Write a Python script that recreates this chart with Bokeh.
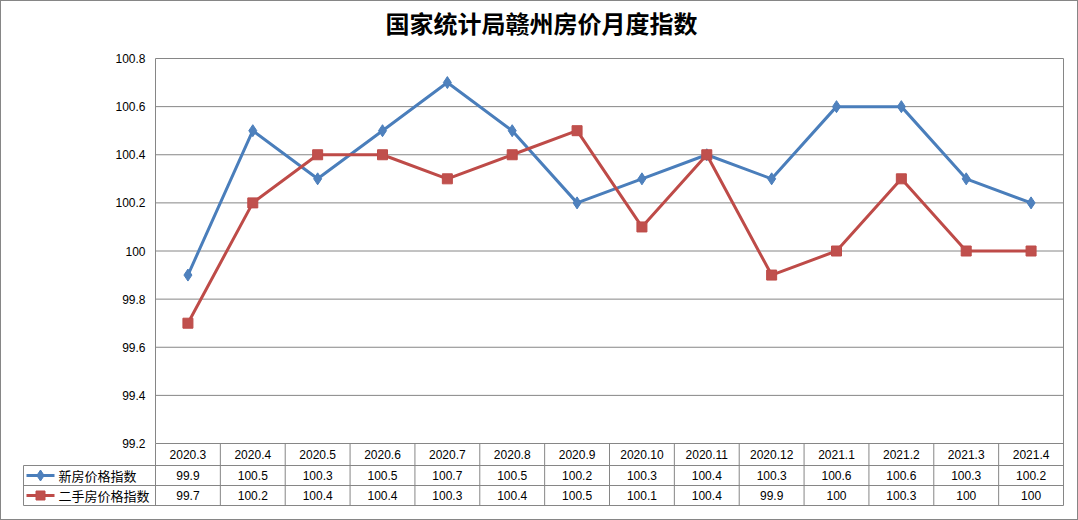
from bokeh.plotting import figure
from bokeh.layouts import column
from bokeh.models import Range1d, FixedTicker, CustomJSTickFormatter, ColumnDataSource
from bokeh.core.properties import value
from bokeh.embed import file_html
from bokeh.resources import INLINE

TITLE = "国家统计局赣州房价月度指数"
MONTHS = ["2020.3", "2020.4", "2020.5", "2020.6", "2020.7", "2020.8", "2020.9",
          "2020.10", "2020.11", "2020.12", "2021.1", "2021.2", "2021.3", "2021.4"]
NEW_HOUSE = [99.9, 100.5, 100.3, 100.5, 100.7, 100.5, 100.2, 100.3, 100.4, 100.3, 100.6, 100.6, 100.3, 100.2]
SECOND_HAND = [99.7, 100.2, 100.4, 100.4, 100.3, 100.4, 100.5, 100.1, 100.4, 99.9, 100.0, 100.3, 100.0, 100.0]
SERIES_NAMES = ["新房价格指数", "二手房价格指数"]
Y_TICKS = [99.2, 99.4, 99.6, 99.8, 100.0, 100.2, 100.4, 100.6, 100.8]

BLUE_L, BLUE_F = "#4A7EBB", "#4F81BD"
RED_L, RED_F = "#BE4B48", "#C0504D"
GRID = "#868686"
NUM_FONT = "Liberation Sans"
CJK_FONT = "Noto Sans CJK SC"

# layout constants (pixels)
PLOT_W, CHART_H = 908, 385        # plot area size
PLOT_TOP = 57                     # space above the plot area (title band)
TITLE_MID = 21                    # title centre, px from top of chart
TITLE_CX = 386                    # title centre, px right of plot-area left
LABEL_COL_W = 132                 # width of the table's label column
ROW_H = [22, 20, 20]              # table row heights (header, series 1, series 2)
PAD = 2

n = len(MONTHS)
xc = [i + 0.5 for i in range(n)]
UX = PLOT_W / n                                 # px per category
UY = CHART_H / (Y_TICKS[-1] - Y_TICKS[0])       # px per index point
y_lo, y_hi = Y_TICKS[0], Y_TICKS[-1]
bounds = [y_lo - sum(ROW_H[:k]) / UY for k in range(len(ROW_H) + 1)]  # table row edges
LEFT = -LABEL_COL_W / UX

p = figure(width=1076, height=518,
           x_range=Range1d(LEFT - PAD / UX, n + PAD / UX),
           y_range=Range1d(bounds[-1] - PAD / UY, y_hi + PLOT_TOP / UY),
           output_backend="svg", toolbar_location=None,
           min_border_left=22 - PAD, min_border_right=14 - PAD,
           min_border_top=0, min_border_bottom=14 - PAD)
p.outline_line_color = None
p.xaxis.visible = False
p.grid.visible = False

# y axis (labels moved into place beside the plot area)
p.yaxis.ticker = FixedTicker(ticks=Y_TICKS)
p.yaxis.formatter = CustomJSTickFormatter(code="return tick.toFixed(1).replace(/\\.0$/, '');")
p.yaxis.axis_line_color = None
p.yaxis.major_tick_line_color = None
p.yaxis.minor_tick_line_color = None
p.yaxis.major_tick_out = 0
p.yaxis.major_tick_in = 0
p.yaxis.major_label_standoff = -(LABEL_COL_W + PAD - 10)
p.yaxis.major_label_text_font = NUM_FONT
p.yaxis.major_label_text_font_size = "12px"
p.yaxis.major_label_text_color = "#000000"

# title
p.text(x=[TITLE_CX / UX], y=[y_hi + (PLOT_TOP - TITLE_MID) / UY], text=[TITLE],
       text_align="center", text_baseline="middle", text_font=value(CJK_FONT),
       text_font_style="bold", text_font_size="24px", text_color="#000000")

# horizontal grid lines + plot-area border
p.segment(x0=[0] * len(Y_TICKS), y0=Y_TICKS, x1=[n] * len(Y_TICKS), y1=Y_TICKS,
          line_color=GRID, line_width=1)
p.segment(x0=[0, n], y0=[y_lo, bounds[-1]], x1=[0, n], y1=[y_hi, y_hi],
          line_color=GRID, line_width=1)

# series
src = ColumnDataSource(dict(x=xc, a=NEW_HOUSE, b=SECOND_HAND))
p.line("x", "a", source=src, line_color=BLUE_L, line_width=3)
p.scatter("x", "a", source=src, marker="diamond", size=12, fill_color=BLUE_F, line_color=BLUE_L)
p.line("x", "b", source=src, line_color=RED_L, line_width=3)
p.scatter("x", "b", source=src, marker="square", size=10, fill_color=RED_F, line_color=RED_L)

# ---------------- data table ----------------
p.segment(x0=[LEFT] * 3, y0=bounds[1:], x1=[n] * 3, y1=bounds[1:], line_color=GRID, line_width=1)
p.segment(x0=list(range(n)), y0=[bounds[-1]] * n, x1=list(range(n)), y1=[y_lo] * n,
          line_color=GRID, line_width=1)
p.segment(x0=[LEFT], y0=[bounds[-1]], x1=[LEFT], y1=[bounds[1]], line_color=GRID, line_width=1)

mids = [(bounds[k] + bounds[k + 1]) / 2 for k in range(3)]
fmt = lambda v: f"{v:g}"
for row, texts in zip(mids, [MONTHS, [fmt(v) for v in NEW_HOUSE], [fmt(v) for v in SECOND_HAND]]):
    p.text(x=xc, y=[row] * n, text=texts, text_align="center", text_baseline="middle",
           text_font=value(NUM_FONT), text_font_size="12px", text_color="#000000")

# legend keys in the table's label column
kx0, kx1, kxm, tx = LEFT + 3 / UX, LEFT + 31 / UX, LEFT + 17 / UX, LEFT + 35 / UX
p.segment(x0=[kx0], y0=[mids[1]], x1=[kx1], y1=[mids[1]], line_color=BLUE_L, line_width=3)
p.scatter(x=[kxm], y=[mids[1]], marker="diamond", size=11, fill_color=BLUE_F, line_color=BLUE_L)
p.segment(x0=[kx0], y0=[mids[2]], x1=[kx1], y1=[mids[2]], line_color=RED_L, line_width=3)
p.scatter(x=[kxm], y=[mids[2]], marker="square", size=9, fill_color=RED_F, line_color=RED_L)
p.text(x=[tx, tx], y=mids[1:], text=SERIES_NAMES, text_align="left", text_baseline="middle",
       text_font=value(CJK_FONT), text_font_size="13px", text_color="#000000")

layout = column(p, styles={"border": "1px solid #868686"})
open("out.html", "w").write(file_html(layout, INLINE))
